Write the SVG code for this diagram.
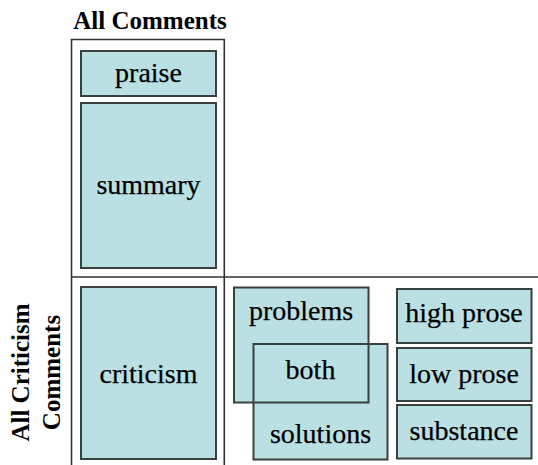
<svg xmlns="http://www.w3.org/2000/svg" width="538" height="465" viewBox="0 0 538 465">
  <style>
    .frame { fill: none; stroke: #333; stroke-width: 1.6; }
    .box { fill: #bae0e4; stroke: #3a3f40; stroke-width: 2; }
    .fill { fill: #bae0e4; stroke: none; }
    .edge { fill: none; stroke: #3a3f40; stroke-width: 2; }
    .lbl { font-family: "Liberation Serif", "Times New Roman", serif; font-size: 28px; fill: #000; stroke: #000; stroke-width: 0.25; text-anchor: middle; }
    .ttl { font-family: "Liberation Serif", "Times New Roman", serif; font-size: 25px; font-weight: bold; fill: #000; text-anchor: middle; }
  </style>
  <rect width="538" height="465" fill="#ffffff"/>

  <!-- frame lines -->
  <g id="frame">
    <path class="frame" d="M71.5 465 V39.5 H224.3 V465"/>
    <path class="frame" d="M71.5 277 H538"/>
  </g>

  <!-- axis titles -->
  <g id="title-all">
    <text class="ttl" x="150" y="29">All Comments</text>
  </g>
  <g id="title-criticism">
    <text class="ttl" transform="translate(29,372.5) rotate(-90)">All Criticism</text>
    <text class="ttl" transform="translate(60,372.5) rotate(-90)">Comments</text>
  </g>

  <!-- left column -->
  <g id="praise">
    <rect class="box" x="81" y="51" width="135" height="45"/>
    <text class="lbl" x="148.5" y="82">praise</text>
  </g>
  <g id="summary">
    <rect class="box" x="81" y="103" width="135" height="165"/>
    <text class="lbl" x="148.5" y="194">summary</text>
  </g>
  <g id="criticism">
    <rect class="box" x="81" y="287" width="135" height="172"/>
    <text class="lbl" x="148.5" y="383">criticism</text>
  </g>

  <!-- overlapping problems / solutions -->
  <g id="problems-solutions">
    <rect class="fill" x="234" y="287.5" width="134.5" height="115"/>
    <rect class="fill" x="253.5" y="344" width="134" height="115.5"/>
    <rect class="edge" x="234" y="287.5" width="134.5" height="115"/>
    <rect class="edge" x="253.5" y="344" width="134" height="115.5"/>
    <text class="lbl" x="301" y="320">problems</text>
    <text class="lbl" x="310.5" y="379">both</text>
    <text class="lbl" x="320.5" y="443">solutions</text>
  </g>

  <!-- right column -->
  <g id="high-prose">
    <rect class="box" x="397" y="289" width="134.5" height="54"/>
    <text class="lbl" x="464" y="322">high prose</text>
  </g>
  <g id="low-prose">
    <rect class="box" x="397" y="348" width="134.5" height="53"/>
    <text class="lbl" x="464" y="383">low prose</text>
  </g>
  <g id="substance">
    <rect class="box" x="397" y="405" width="134.5" height="53.5"/>
    <text class="lbl" x="464" y="440">substance</text>
  </g>
</svg>
